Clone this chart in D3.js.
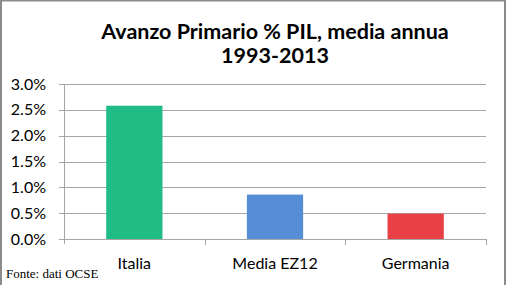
<!DOCTYPE html>
<html>
<head>
<meta charset="utf-8">
<script src="https://cdn.jsdelivr.net/npm/d3@7"></script>
<style>
  body { margin: 0; background: #fff; }
  svg { display: block; }
</style>
</head>
<body>
<svg width="507" height="285"></svg>
<script>
var categories = ["Italia", "Media EZ12", "Germania"];
var values = [2.58, 0.86, 0.49];
var colors = ["#1fbd85", "#558ed5", "#e84045"];
var yTicks = [0, 0.5, 1, 1.5, 2, 2.5, 3];
var titleLines = ["Avanzo Primario % PIL, media annua", "1993-2013"];
var source = "Fonte: dati OCSE";

var svg = d3.select("svg");
var width = 507, height = 285;
var font = "Lato, 'Open Sans', sans-serif";

// frame around the picture
svg.append("rect")
    .attr("x", 1).attr("y", 0.5)
    .attr("width", 504).attr("height", 290)
    .attr("fill", "none")
    .attr("stroke", "#8c8c8c")
    .attr("stroke-width", 2);

var margin = { left: 64, right: 21, top: 84, bottom: 46 };

var x = d3.scaleBand()
    .domain(categories)
    .range([margin.left, width - margin.right])
    .paddingInner(0.6)
    .paddingOuter(0.3);

var y = d3.scaleLinear()
    .domain([0, 3])
    .range([height - margin.bottom, margin.top]);

// gridlines
svg.append("g")
    .selectAll("line")
    .data(yTicks)
    .join("line")
    .attr("x1", margin.left - 5)
    .attr("x2", width - margin.right)
    .attr("y1", d => Math.round(y(d)) + 0.5)
    .attr("y2", d => Math.round(y(d)) + 0.5)
    .attr("stroke", "#a6a6a6")
    .attr("stroke-width", 1);

// y axis labels
svg.append("g")
    .selectAll("text")
    .data(yTicks)
    .join("text")
    .attr("x", 46)
    .attr("y", d => y(d))
    .attr("dy", "0.35em")
    .attr("text-anchor", "end")
    .attr("font-family", font)
    .attr("font-size", 16)
    .attr("fill", "#000")
    .text(d => d3.format(".1f")(d) + "%");

// bars
svg.append("g")
    .selectAll("rect")
    .data(values)
    .join("rect")
    .attr("x", (d, i) => x(categories[i]))
    .attr("y", d => y(d))
    .attr("width", x.bandwidth())
    .attr("height", d => y(0) - y(d))
    .attr("fill", (d, i) => colors[i]);

// axes lines
svg.append("line")
    .attr("x1", margin.left + 0.5).attr("x2", margin.left + 0.5)
    .attr("y1", y(3)).attr("y2", y(0) + 5)
    .attr("stroke", "#a6a6a6");

var step = (width - margin.right - margin.left) / categories.length;
svg.append("g")
    .selectAll("line")
    .data(d3.range(1, categories.length + 1))
    .join("line")
    .attr("x1", d => Math.round(margin.left + d * step) + 0.5)
    .attr("x2", d => Math.round(margin.left + d * step) + 0.5)
    .attr("y1", y(0))
    .attr("y2", y(0) + 6)
    .attr("stroke", "#a6a6a6");

// category labels
svg.append("g")
    .selectAll("text")
    .data(categories)
    .join("text")
    .attr("x", d => x(d) + x.bandwidth() / 2)
    .attr("y", 269)
    .attr("text-anchor", "middle")
    .attr("font-family", font)
    .attr("font-size", 16)
    .attr("fill", "#000")
    .text(d => d);

// title
svg.append("g")
    .selectAll("text")
    .data(titleLines)
    .join("text")
    .attr("x", 275)
    .attr("y", (d, i) => 39 + i * 24)
    .attr("text-anchor", "middle")
    .attr("font-family", font)
    .attr("font-weight", "bold")
    .attr("font-size", 21.5)
    .attr("fill", "#000")
    .text(d => d);

// source note
svg.append("text")
    .attr("x", 6)
    .attr("y", 278)
    .attr("font-family", "'Liberation Serif', 'DejaVu Serif', serif")
    .attr("font-size", 13)
    .attr("fill", "#000")
    .text(source);
</script>
</body>
</html>
